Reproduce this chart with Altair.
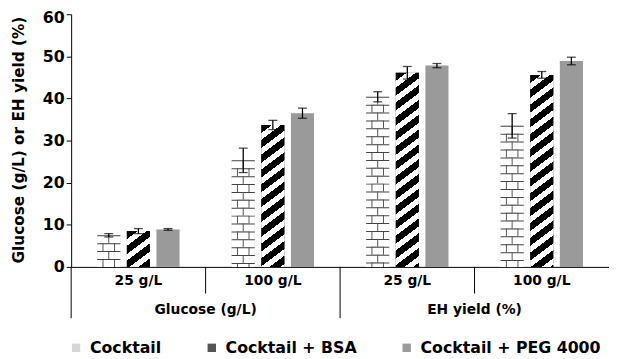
import altair as alt
import pandas as pd

# ---- data ----
groups = ["Glucose (g/L)", "Glucose (g/L)", "EH yield (%)", "EH yield (%)"]
levels = ["25 g/L", "100 g/L", "25 g/L", "100 g/L"]
series_names = ["Cocktail", "Cocktail + BSA", "Cocktail + PEG 4000"]
cocktail = [7.5, 25.3, 40.4, 33.5]
cocktail_err = [0.4, 2.9, 1.2, 2.9]
bsa = [8.5, 33.7, 46.1, 45.6]
bsa_err = [0.6, 1.1, 1.5, 0.8]
peg = [8.9, 36.5, 47.8, 48.9]
peg_err = [0.2, 1.2, 0.5, 0.9]
y_ticks = [0, 10, 20, 30, 40, 50, 60]

# ---- table ----
rows = []
for i in range(len(levels)):
    cat = groups[i] + "|" + levels[i]
    for s, vals, errs in zip(series_names, [cocktail, bsa, peg], [cocktail_err, bsa_err, peg_err]):
        rows.append({"cat": cat, "group": groups[i], "level": levels[i],
                     "series": s, "value": vals[i], "err": errs[i]})
df = pd.DataFrame(rows)
cat_order = [g + "|" + l for g, l in zip(groups, levels)]

# ---- layout / style ----
W, H = 545, 256
FONT = "DejaVu Sans"
PI, PO = 0.22, 0.88
band = W / len(cat_order)
step = band / (3 - PI + 2 * PO)
BW = step * (1 - PI)          # bar width in px
PXU = H / 60.0                # px per unit

xs = alt.X("cat:N", sort=cat_order, scale=alt.Scale(paddingInner=0, paddingOuter=0),
           axis=alt.Axis(title=None, ticks=False, tickSize=0, domainColor="black",
                         labelExpr="split(datum.label, '|')[1]", labelAngle=0,
                         labelFont=FONT, labelFontWeight="bold", labelFontSize=14,
                         labelColor="black", labelPadding=7))
xo = alt.XOffset("series:N", sort=series_names,
                 scale=alt.Scale(paddingInner=PI, paddingOuter=PO))
ys = alt.Y("value:Q", scale=alt.Scale(domain=[0, 60], nice=False),
           axis=alt.Axis(values=y_ticks, title="Glucose (g/L)  or EH yield (%)",
                         grid=False, tickSize=5, tickColor="black", domainColor="black",
                         labelFont=FONT, labelFontWeight="bold", labelFontSize=16,
                         labelColor="black", labelPadding=2,
                         labelOffset=alt.condition("datum.value >= 60", alt.value(3), alt.value(0)),
                         titleFont=FONT, titleFontWeight="bold", titleFontSize=15.5,
                         titleColor="black", titleX=-53, titleY=127, titleAngle=-90,
                         titleBaseline="middle", titleAlign="center"))

base = alt.Chart(df)

bars = base.mark_bar().encode(
    x=xs, xOffset=xo, y=ys,
    fill=alt.Fill("series:N", sort=series_names,
                  scale=alt.Scale(domain=series_names, range=["#d6d6d6", "#555555", "#9a9a9a"]),
                  legend=alt.Legend(orient="none", legendX=-3, legendY=330, direction="horizontal",
                                    title=None, symbolType="square", symbolSize=72,
                                    symbolStrokeWidth=0, labelFont=FONT, labelFontWeight="bold",
                                    labelFontSize=16, labelColor="black", labelLimit=400,
                                    columnPadding=42.5, labelOffset=6)),
)

ck = base.transform_filter(alt.datum.series == "Cocktail")
rule_enc = dict(x=xs, xOffset=xo, y=ys, y2=alt.datum(0))

white_bar = ck.mark_bar(fill="white").encode(x=xs, xOffset=xo, y=ys)
quarter_dark = ck.mark_rule(stroke="#555", strokeWidth=BW / 2 + 1, strokeDash=[8, 8],
                            strokeDashOffset=8).encode(**rule_enc)
quarter_white = ck.mark_rule(stroke="white", strokeWidth=BW / 2 - 1, strokeDash=[8, 8],
                             strokeDashOffset=8).encode(**rule_enc)
mortar = ck.mark_rule(stroke="#444", strokeWidth=BW, strokeDash=[1, 7]).encode(**rule_enc)
center_joint = ck.mark_rule(stroke="#555", strokeWidth=1, strokeDash=[8, 8]).encode(**rule_enc)

# diagonal stripes for BSA bars
SLOPE, PERIOD, FRAC = 0.75, 15.0, 0.55
stripe_layers = []
for i, cat in enumerate(cat_order):
    h = bsa[i] * PXU
    r = SLOPE * BW / h
    k = (r + 1) / (r * r + 1)
    n = (h + SLOPE * BW) / PERIOD
    stops = []
    j = 0
    while j / n < 1:
        a = j / n
        b = min((j + FRAC) / n, 1.0)
        c = min((j + 1) / n, 1.0)
        stops += [alt.GradientStop(color="black", offset=a), alt.GradientStop(color="black", offset=b),
                  alt.GradientStop(color="white", offset=b), alt.GradientStop(color="white", offset=c)]
        j += 1
    grad = alt.LinearGradient(gradient="linear", stops=stops, x1=0, y1=0, x2=k * r, y2=k)
    layer = base.transform_filter(
        (alt.datum.series == "Cocktail + BSA") & (alt.datum.cat == cat)
    ).mark_bar(fill=grad).encode(x=xs, xOffset=xo, y=ys)
    stripe_layers.append(layer)

eb = base.transform_calculate(lo="datum.value - datum.err", hi="datum.value + datum.err")
err_rule = eb.mark_rule(color="black", strokeWidth=1.3).encode(
    x=xs, xOffset=xo, y="lo:Q", y2="hi:Q")
cap_hi = eb.mark_tick(color="black", thickness=1.3, size=9).encode(x=xs, xOffset=xo, y="hi:Q")
cap_lo = eb.mark_tick(color="black", thickness=1.3, size=9).encode(x=xs, xOffset=xo, y="lo:Q")

sep_x = alt.X("cat:N", sort=cat_order, bandPosition=0)
seps_long = ck.transform_filter(alt.datum.level == "25 g/L").mark_rule(
    color="black", strokeWidth=1).encode(x=sep_x, y=alt.value(H), y2=alt.value(H + 52))
seps_short = ck.transform_filter(alt.datum.level == "100 g/L").mark_rule(
    color="black", strokeWidth=1).encode(x=sep_x, y=alt.value(H), y2=alt.value(H + 27))
group_text = ck.transform_filter(alt.datum.level == "100 g/L").mark_text(
    font=FONT, fontWeight="bold", fontSize=14, color="black", baseline="alphabetic", align="center"
).encode(x=sep_x, y=alt.value(304), text="group:N")

chart = alt.layer(
    bars, white_bar, quarter_dark, quarter_white, mortar, center_joint,
    *stripe_layers, err_rule, cap_hi, cap_lo, seps_long, seps_short, group_text
).properties(
    width=W, height=H,
    autosize=alt.AutoSizeParams(type="none"),
    padding={"left": 64, "top": 4, "right": 0, "bottom": 91},
    background="white",
).configure_view(strokeWidth=0)

chart.save("out.html", embed_options={"renderer": "svg", "actions": False})
